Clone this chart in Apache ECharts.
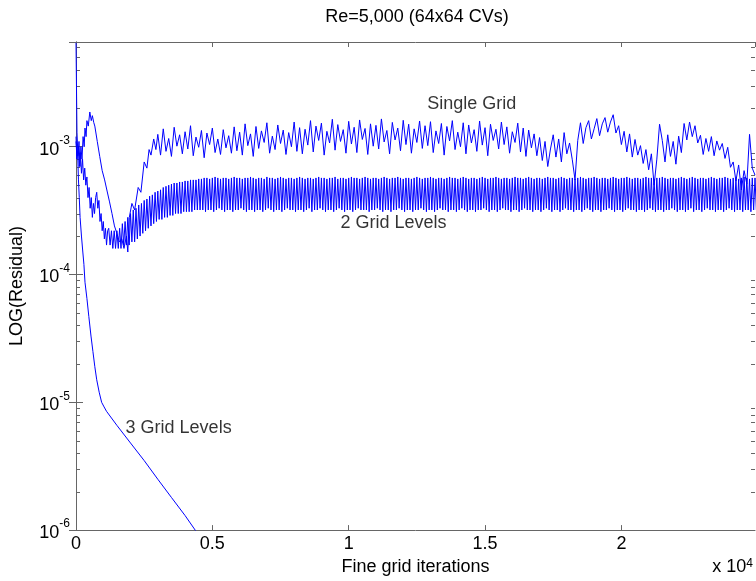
<!DOCTYPE html>
<html><head><meta charset="utf-8">
<script src="https://cdn.jsdelivr.net/npm/echarts@6/dist/echarts.min.js"></script>
<style>html,body{margin:0;padding:0;background:#fff}#c{width:756px;height:581px}</style>
</head><body><div id="c"></div>
<script>
// ---------- text ----------
const titleText = 'Re=5,000 (64x64 CVs)';
const xAxisTitle = 'Fine grid iterations';
const yAxisTitle = 'LOG(Residual)';
const xTickValues = [0, 5000, 10000, 15000, 20000];
const xTickLabels = ['0', '0.5', '1', '1.5', '2'];
const yTickExponents = [-6, -5, -4, -3];
const yMinorTickValues = [2e-6,3e-6,4e-6,5e-6,6e-6,7e-6,8e-6,9e-6,
  2e-5,3e-5,4e-5,5e-5,6e-5,7e-5,8e-5,9e-5,
  2e-4,3e-4,4e-4,5e-4,6e-4,7e-4,8e-4,9e-4,
  2e-3,3e-3,4e-3,5e-3,6e-3];
const xRange = [0, 24900];
const yRange = [1e-6, 6.6e-3];
const annotations = [
  {name: 'Single Grid', iter: 12860, res: 2.17e-3},
  {name: '2 Grid Levels', iter: 9680, res: 2.55e-4},
  {name: '3 Grid Levels', iter: 1800, res: 6.3e-6}
];

// ---------- Single Grid (residual in units of 1e-4) ----------
const singleGridEarlyIter = [0,36,72,110,145,180,220,260,300,330,370,400,450,507,560,600,650,690,780,870,960,1050,1140,1230,1320,1410,1500,1590,1680,1760,1850,1900,1955,2050,2150,2280,2380,2500,2600,2680,2750,2850,2930];
const singleGridEarlyRes = [65,13,8.5,11,7,10,8,12,10,14,12,16,14.5,18.7,16,17.5,15.5,14.5,11,8.4,6.5,5.5,4.5,3.7,3.0,2.4,2.1,1.8,1.9,1.6,2.0,1.5,2.8,3.6,3.2,4.8,4.4,7.6,6.8,9.5,8.6,11.5,9.5];
const singleGridSteadyStart = 3000, singleGridSteadyStep = 100;
const singleGridSteadyRes = [
  12.5,8.6,13.8,9.2,11.6,8.4,14.2,10.1,12.4,8.8,13.1,9.6,14.6,8.5,11.9,9.9,13.4,8.2,12.8,10.4,14.0,9.0,11.5,8.7,13.6,9.8,12.2,8.9,14.3,
  9.3,13.0,8.6,15.1,10.2,12.6,8.4,14.4,9.7,13.3,10.8,15.4,8.9,12.1,9.5,14.8,10.6,13.5,8.7,12.9,10.0,15.6,9.2,14.1,8.8,
  13.7,10.3,16.0,9.1,14.5,11.2,15.3,8.6,13.2,10.7,16.4,9.4,14.9,11.0,13.6,8.9,15.8,10.5,14.2,9.0,16.2,11.4,13.9,8.7,15.1,10.1,14.7,9.6,16.5,10.9,13.4,8.8,15.5,11.3,14.0,9.3,16.1,10.4,15.0,8.9,13.8,10.8,15.9,9.7,
  14.6,10.2,15.7,9.0,13.3,10.6,15.2,8.6,14.4,11.1,16.0,9.5,13.0,10.0,15.4,8.8,14.8,10.7,13.6,9.2,15.9,10.3,14.1,8.5,15.0,11.2,13.7,9.6,15.6,10.4,14.3,8.9,13.1,10.8,15.3,9.1,14.0,8.4,13.5,9.8,
  12.6,8.5,11.8,7.8,11.0,7.0,9.6,
  12.4,8.3,11.5,7.6,12.9,8.8,10.7,7.9,5.5,
  11.2,15.4,10.6,14.1,16.0,11.5,13.8,16.6,12.2,15.1,16.9,13.0,15.6,17.8,12.8,
  14.6,10.4,13.2,9.1,12.6,8.3,11.4,8.6,10.2,7.4,
  9.5,6.6,8.8,5.0,8.0,
  15.0,
  11.2,7.6,12.4,8.4,11.0,7.3,12.1,9.0,
  15.2,11.3,15.6,12.0,14.6,
  10.7,12.3,8.7,11.6,9.2,12.0,8.5,11.1,9.4,10.6,8.1,9.9,
  6.9,7.6,5.4,7.2,4.6,6.5,5.1,
  12.5,
  6.8,6.0
];

// ---------- 2 Grid Levels (residual in units of 1e-5) ----------
const twoGridEarlyIter = [0,40,80,120,160,200,240,280,320,360,400,440,480,520,560,600,640,680,720,760,800,840,880,920,960,1000,1040,1080,1120,1160];
const twoGridEarlyRes = [110,85,100,70,90,62,80,55,68,50,58,40,48,33,40,28,36,30,40,44,33,38,26,30,22,26,19,23,17,22];
const twoGridCycleStart = 1200, twoGridCyclePeriod = 100;
const twoGridPeaks = [
  23,22,22,22,23,25,26,28,30,32,33,35,36,38,39,41,42,44,45,46,48,49,50,51,52,52,53,53,54,54,55,55,55,56,
  56,57,57,56,57,58,57,56,57,57,56,57,58,57,57,56,57,57,58,57,
  56,57,57,56,58,57,57,56,57,58,57,56,57,57,56,57,58,57,56,57,
  57,56,57,58,57,57,56,57,57,58,56,57,57,56,57,58,57,57,56,57,
  58,57,56,57,57,56,57,58,57,56,57,57,58,57,56,57,57,56,57,58,
  57,56,57,57,58,57,56,57,57,56,57,58,57,57,56,57,58,57,56,57,
  57,56,57,58,57,56,57,57,58,57,56,57,57,56,57,58,57,57,56,57,
  58,57,56,57,57,56,57,58,57,57,56,57,58,57,56,57,57,56,57,58,
  57,56,57,57,58,57,56,57,57,56,57,58,57,56,57,57,58,57,56,57,
  57,56,57,58,57,57,56,57,57,58,57,56,57,57,56,57,58,57,56,57,
  58,57,56,57,57,56,57,58,57,56,57,57,58,57,56,57,57,56,57,58,
  57,56,57,57
];
const twoGridTroughs = [
  17,16,16,16,16,17,17,17,18,18,19,20,21,22,23,24,25,26,27,27,28,28,29,29,30,30,30,31,31,31,31,32,32,32,
  32,31,32,32,31,32,33,32,31,32,32,31,32,32,33,32,31,32,32,31,
  32,32,31,32,33,32,31,32,32,31,32,33,32,32,31,32,32,31,32,33,
  31,32,32,33,32,31,32,32,31,32,33,32,31,32,32,31,32,33,32,32,
  32,31,32,32,33,32,31,32,32,31,32,32,33,32,31,32,32,31,32,32,
  33,32,31,32,32,31,32,33,32,32,31,32,32,31,32,33,32,31,32,32,
  31,32,32,33,32,31,32,32,31,32,33,32,32,31,32,32,31,32,33,32,
  32,31,32,32,31,32,33,32,31,32,32,31,32,33,32,32,31,32,32,31,
  32,33,32,31,32,32,31,32,32,33,32,31,32,32,31,32,33,32,32,31,
  32,32,31,32,33,32,31,32,32,31,32,32,33,32,31,32,32,31,32,33,
  31,32,32,31,32,33,32,32,31,32,32,31,32,33,32,31,32,32,31,32,
  32,31,32,32
];

// ---------- 3 Grid Levels ----------
const threeGridIter = [0,30,60,90,120,150,200,250,290,330,400,470,550,620,690,760,850,940,1030,1120,1500,2000,2500,3000,3500,4000,4400,4600];
const threeGridRes = [1.2e-3,8e-4,9e-4,5.5e-4,4e-4,2.8e-4,2e-4,1.5e-4,1.2e-4,8.7e-5,6.5e-5,4.7e-5,3.3e-5,2.5e-5,1.9e-5,1.5e-5,1.2e-5,1.0e-5,9.2e-6,8.5e-6,6.6e-6,4.8e-6,3.5e-6,2.5e-6,1.8e-6,1.3e-6,9.8e-7,8.5e-7];

// ---------- build series data ----------
const singleGrid = singleGridEarlyIter.map((it, i) => [it, singleGridEarlyRes[i] * 1e-4])
  .concat(singleGridSteadyRes.map((r, i) => [singleGridSteadyStart + i * singleGridSteadyStep, r * 1e-4]));
const twoGrid = twoGridEarlyIter.map((it, i) => [it, twoGridEarlyRes[i] * 1e-5]);
twoGridPeaks.forEach((p, i) => {
  twoGrid.push([twoGridCycleStart + i * twoGridCyclePeriod, p * 1e-5]);
  if (i < twoGridTroughs.length) twoGrid.push([twoGridCycleStart + i * twoGridCyclePeriod + twoGridCyclePeriod / 2, twoGridTroughs[i] * 1e-5]);
});
const threeGrid = threeGridIter.map((it, i) => [it, threeGridRes[i]]);

const FONT = 'Liberation Sans, Arial, sans-serif';
const FS = 18;
const AX = '#666';
const BLUE = '#0000ff';

const chart = echarts.init(document.getElementById('c'), null, {renderer: 'canvas'});
const lineSeries = (name, data) => ({
  name, type: 'line', data, showSymbol: false, symbol: 'none', sampling: null,
  lineStyle: {color: BLUE, width: 1}, itemStyle: {color: BLUE}, animation: false, clip: true, z: 3
});

function yFmt(v) {
  const e = Math.round(Math.log10(v));
  if (Math.abs(Math.log10(v) - e) > 1e-6 || yTickExponents.indexOf(e) < 0) return '';
  return '{b|10}{s|' + e + '}';
}
function xFmt(v) {
  const i = xTickValues.indexOf(v);
  return i < 0 ? '' : xTickLabels[i];
}

chart.setOption({
  animation: false,
  backgroundColor: '#fff',
  title: {text: titleText, left: 412, top: 3, textAlign: 'center',
    textStyle: {fontFamily: FONT, fontSize: FS, fontWeight: 'normal', color: '#000'}},
  grid: {left: 69, right: 1, top: 42, bottom: 49, containLabel: false},
  xAxis: [{
    type: 'value', min: xRange[0], max: xRange[1], interval: 5000,
    name: xAxisTitle, nameLocation: 'middle', nameGap: 22,
    nameTextStyle: {fontFamily: FONT, fontSize: FS, color: '#000'},
    axisLine: {show: true, lineStyle: {color: AX, width: 1}},
    axisTick: {show: true, inside: true, length: 5, lineStyle: {color: AX}},
    axisLabel: {formatter: xFmt, showMaxLabel: false, margin: 5, fontFamily: FONT, fontSize: FS, color: '#000'},
    splitLine: {show: false}
  }, {
    type: 'value', position: 'top', min: xRange[0], max: xRange[1], interval: 5000,
    axisLine: {show: true, lineStyle: {color: AX, width: 1}},
    axisTick: {show: true, inside: true, length: 5, lineStyle: {color: AX}},
    axisLabel: {show: false}, splitLine: {show: false}
  }],
  yAxis: [{
    type: 'log', logBase: 10, min: yRange[0], max: yRange[1],
    name: yAxisTitle, nameLocation: 'middle', nameGap: 50, nameRotate: 90,
    nameTextStyle: {fontFamily: FONT, fontSize: FS, color: '#000'},
    axisLine: {show: true, lineStyle: {color: AX, width: 1}},
    axisTick: {show: true, inside: true, length: 7, lineStyle: {color: AX}},
    axisLabel: {formatter: yFmt, showMaxLabel: false, margin: 6, fontFamily: FONT, color: '#000',
      rich: {b: {fontFamily: FONT, fontSize: FS, lineHeight: 24, verticalAlign: 'bottom', color: '#000'},
             s: {fontFamily: FONT, fontSize: 12, lineHeight: 12, verticalAlign: 'top', color: '#000'}}},
    splitLine: {show: false}
  }, {
    type: 'log', logBase: 10, position: 'right', min: yRange[0], max: yRange[1],
    axisLine: {show: true, lineStyle: {color: AX, width: 1}},
    axisTick: {show: true, inside: true, length: 7, lineStyle: {color: AX}},
    axisLabel: {show: false}, splitLine: {show: false}
  }],
  graphic: [{
    type: 'text', right: 3, top: 558,
    style: {text: 'x 10{s|4}', fontFamily: FONT, fontSize: FS, fill: '#000',
      rich: {s: {fontFamily: FONT, fontSize: 12, verticalAlign: 'top', lineHeight: 12}}}
  }],
  series: [
    lineSeries('Single Grid', singleGrid),
    lineSeries('2 Grid Levels', twoGrid),
    lineSeries('3 Grid Levels', threeGrid),
    {
      type: 'custom', name: 'minorTicks', silent: true, animation: false, z: 2,
      data: yMinorTickValues.map(v => [xRange[0], v]),
      renderItem: (params, api) => {
        const y = Math.round(api.coord([xRange[0], api.value(1)])[1]) + 0.5;
        const cs = params.coordSys;
        return {type: 'group', children: [
          {type: 'line', shape: {x1: cs.x, y1: y, x2: cs.x + 4, y2: y}, style: {stroke: AX, lineWidth: 1}},
          {type: 'line', shape: {x1: cs.x + cs.width, y1: y, x2: cs.x + cs.width - 4, y2: y}, style: {stroke: AX, lineWidth: 1}}
        ]};
      }
    },
    {
      type: 'scatter', name: 'labels', silent: true, symbolSize: 1, animation: false,
      itemStyle: {color: 'rgba(0,0,0,0)'},
      data: annotations.map(a => ({name: a.name, value: [a.iter, a.res]})),
      label: {show: true, position: 'right', distance: 0, formatter: '{b}',
        fontFamily: FONT, fontSize: FS, color: '#000'}
    }
  ]
});
</script></body></html>
